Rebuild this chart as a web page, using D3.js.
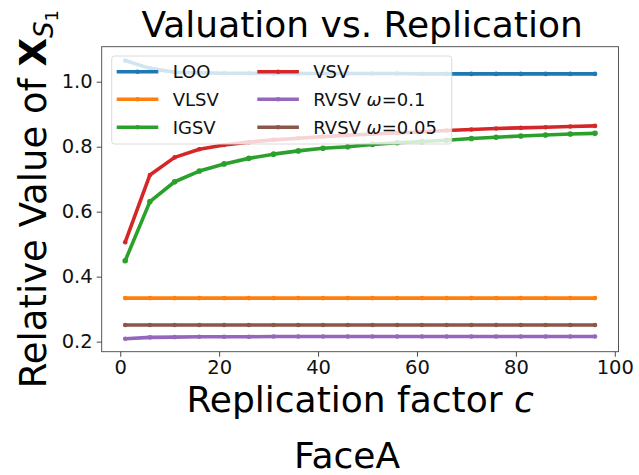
<!DOCTYPE html>
<html>
<head>
<meta charset="utf-8">
<script src="https://cdn.jsdelivr.net/npm/d3@7"></script>
<style>
  body { margin: 0; background: #fff; }
  svg { font-family: "DejaVu Sans", sans-serif; }
</style>
</head>
<body>
<div id="chart"></div>
<script>
// replication factor c
const cValues = [1, 6, 11, 16, 21, 26, 31, 36, 41, 46, 51, 56, 61, 66, 71, 76, 81, 86, 91, 96];

const looVals = [1.065, 1.041, 1.029, 1.027, 1.026, 1.026, 1.025, 1.025, 1.025, 1.025, 1.025, 1.025, 1.024, 1.024, 1.024, 1.024, 1.024, 1.024, 1.024, 1.024];
const vlsvVals = [0.334, 0.334, 0.334, 0.334, 0.334, 0.334, 0.334, 0.334, 0.334, 0.334, 0.334, 0.334, 0.334, 0.334, 0.334, 0.334, 0.334, 0.334, 0.334, 0.334];
const igsvVals = [0.449, 0.631, 0.692, 0.725, 0.747, 0.764, 0.777, 0.787, 0.795, 0.800, 0.807, 0.812, 0.816, 0.820, 0.825, 0.829, 0.833, 0.836, 0.839, 0.841];
const vsvVals = [0.506, 0.713, 0.767, 0.792, 0.805, 0.814, 0.821, 0.826, 0.831, 0.835, 0.839, 0.842, 0.846, 0.850, 0.853, 0.856, 0.858, 0.860, 0.862, 0.864];
const rvsv01Vals = [0.209, 0.213, 0.214, 0.215, 0.215, 0.215, 0.216, 0.216, 0.216, 0.216, 0.216, 0.216, 0.216, 0.216, 0.216, 0.216, 0.216, 0.216, 0.216, 0.216];
const rvsv005Vals = [0.251, 0.251, 0.251, 0.251, 0.251, 0.251, 0.251, 0.251, 0.251, 0.251, 0.251, 0.251, 0.251, 0.251, 0.251, 0.251, 0.251, 0.251, 0.251, 0.251];

const xTicks = [0, 20, 40, 60, 80, 100];
const yTicks = [0.2, 0.4, 0.6, 0.8, 1.0];

const series = [
    { name: 'LOO', values: looVals, color: '#1f77b4' },
    { name: 'VLSV', values: vlsvVals, color: '#ff7f0e' },
    { name: 'IGSV', values: igsvVals, color: '#2ca02c' },
    { name: 'VSV', values: vsvVals, color: '#d62728' },
    { name: 'RVSV', omega: '0.1', values: rvsv01Vals, color: '#9467bd' },
    { name: 'RVSV', omega: '0.05', values: rvsv005Vals, color: '#8c564b' }
];

const svgWidth = 639;
const svgHeight = 475;
const plot = { left: 101.7, top: 46.7, right: 618.5, bottom: 351.7 };

const svg = d3.select('#chart')
   .append('svg')
   .attr('width', svgWidth)
   .attr('height', svgHeight);

const xScale = d3.scaleLinear()
   .domain([-3.75, 100.75])
   .range([plot.left, plot.right]);

const yScale = d3.scaleLinear()
   .domain([0.169, 1.1077])
   .range([plot.bottom, plot.top]);

// axes
const xAxis = svg.append('g')
   .attr('transform', `translate(0,${plot.bottom})`)
   .call(d3.axisBottom(xScale).tickValues(xTicks).tickFormat(d3.format('d')).tickSize(5).tickPadding(3));

const yAxis = svg.append('g')
   .attr('transform', `translate(${plot.left},0)`)
   .call(d3.axisLeft(yScale).tickValues(yTicks).tickFormat(d3.format('.1f')).tickSize(5).tickPadding(4));

[xAxis, yAxis].forEach(ax => {
    ax.select('.domain').remove();
    ax.selectAll('.tick line').attr('stroke', '#333').attr('stroke-width', 0.9);
    ax.selectAll('.tick text')
       .attr('fill', '#111')
       .style('font-size', '19.5px')
       .style('font-family', '"DejaVu Sans", sans-serif');
});

// frame
svg.append('rect')
   .attr('x', plot.left)
   .attr('y', plot.top)
   .attr('width', plot.right - plot.left)
   .attr('height', plot.bottom - plot.top)
   .attr('fill', 'none')
   .attr('stroke', '#444')
   .attr('stroke-width', 0.9);

// lines
const line = d3.line()
   .x((d, i) => xScale(cValues[i]))
   .y(d => yScale(d));

const lineG = svg.append('g');
series.forEach(s => {
    lineG.append('path')
       .datum(s.values)
       .attr('d', line)
       .attr('fill', 'none')
       .attr('stroke', s.color)
       .attr('stroke-width', 3.6)
       .attr('stroke-linejoin', 'round');

    lineG.selectAll(null)
       .data(s.values)
       .join('circle')
       .attr('cx', (d, i) => xScale(cValues[i]))
       .attr('cy', d => yScale(d))
       .attr('r', s.name === 'IGSV' ? 2.8 : 2.3)
       .attr('fill', s.color);
});

// legend
const legend = svg.append('g');
legend.append('rect')
   .attr('x', 111.7)
   .attr('y', 56)
   .attr('width', 340)
   .attr('height', 88)
   .attr('rx', 3)
   .attr('fill', 'white')
   .attr('fill-opacity', 0.8)
   .attr('stroke', '#d6d6d6')
   .attr('stroke-width', 0.9);

const colX = [116.7, 257.3];
const rowY = [71.7, 99.3, 127.3];

series.forEach((s, i) => {
    const col = Math.floor(i / 3);
    const row = i % 3;
    const x0 = colX[col];
    const y0 = rowY[row];
    const item = legend.append('g');
    item.append('line')
       .attr('x1', x0)
       .attr('x2', x0 + 41.6)
       .attr('y1', y0)
       .attr('y2', y0)
       .attr('stroke', s.color)
       .attr('stroke-width', 3.6);
    item.append('circle')
       .attr('cx', x0 + 20.8)
       .attr('cy', y0)
       .attr('r', 2.3)
       .attr('fill', s.color);
    const t = item.append('text')
       .attr('x', x0 + 56)
       .attr('y', y0 + 6.5)
       .style('font-size', '18px')
       .attr('fill', '#111');
    t.append('tspan').text(s.name);
    if (s.omega) {
        t.append('tspan').text(' ');
        t.append('tspan').style('font-style', 'italic').text('ω');
        t.append('tspan').text('=' + s.omega);
    }
});

// title
svg.append('text')
   .attr('x', (plot.left + plot.right) / 2 + 2)
   .attr('y', 36.7)
   .attr('text-anchor', 'middle')
   .style('font-size', '36px')
   .attr('fill', '#000')
   .text('Valuation vs. Replication');

// x label
const xLabel = svg.append('text')
   .attr('x', (plot.left + plot.right) / 2)
   .attr('y', 412)
   .attr('text-anchor', 'middle')
   .style('font-size', '36px')
   .attr('fill', '#000');
xLabel.append('tspan').text('Replication factor ');
xLabel.append('tspan').style('font-style', 'italic').text('c');

// y label
const yLabel = svg.append('text')
   .attr('transform', `translate(46,${(plot.top + plot.bottom) / 2}) rotate(-90)`)
   .attr('text-anchor', 'middle')
   .style('font-size', '37px')
   .attr('fill', '#000');
yLabel.append('tspan').text('Relative Value of ');
yLabel.append('tspan').style('font-weight', 'bold').text('X');
yLabel.append('tspan').attr('dy', 7).style('font-size', '26px').style('font-style', 'italic').text('S');
yLabel.append('tspan').attr('dy', 5).style('font-size', '18px').text('1');

// subplot caption
svg.append('text')
   .attr('x', 347)
   .attr('y', 468)
   .attr('text-anchor', 'middle')
   .style('font-size', '36px')
   .attr('fill', '#000')
   .text('FaceA');
</script>
</body>
</html>
